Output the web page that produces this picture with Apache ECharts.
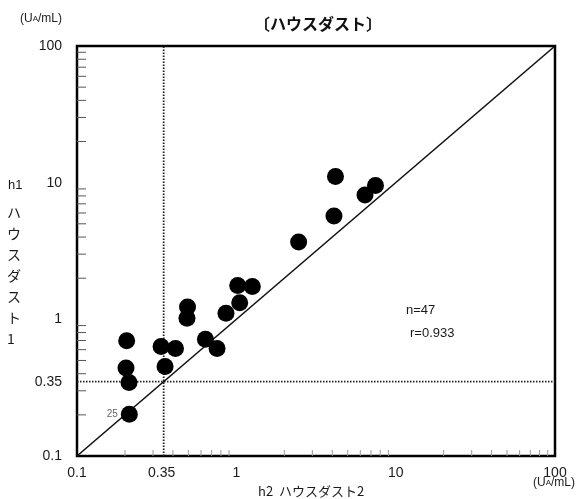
<!DOCTYPE html>
<html><head><meta charset="utf-8">
<script src="https://cdn.jsdelivr.net/npm/echarts@6/dist/echarts.min.js"></script>
<style>html,body{margin:0;padding:0;background:#fff}#c{width:583px;height:499px}</style>
</head><body><div id="c"></div>
<script>
// h2 (x) and h1 (y) values, UA/mL
const h2 = [0.213,0.205,0.203,0.212,0.337,0.357,0.415,0.494,0.49,0.64,0.757,0.861,1.02,1.05,1.26,2.46,4.19,4.10,6.42,7.47];
const h1 = [0.202,0.697,0.44,0.345,0.633,0.452,0.612,1.23,1.02,0.716,0.612,1.11,1.77,1.32,1.74,3.68,11.1,5.70,8.12,9.53];
const pointNotes = ['25','','','','','','','','','','','','','','','','','','',''];
const cutoff = 0.35;
const axisMin = 0.1, axisMax = 100;
const extraTickLabels = [0.35];
const minorTicks = [0.2,0.3,0.4,0.5,0.6,0.7,0.8,0.9,2,3,4,5,6,7,8,9,20,30,40,50,60,70,80,90];
const statsText = ['n=47','r=0.933'];

const FONT = '"Liberation Sans", Arial, sans-serif';
const JP = '"Noto Sans CJK JP", sans-serif';
const chart = echarts.init(document.getElementById('c'), null, {renderer:'canvas'});
const fmt = v => String(+(+v).toPrecision(3));

const pts = h2.map((x,i)=>({value:[x,h1[i]], label:{show:!!pointNotes[i], formatter:pointNotes[i]}}));

chart.setOption({
  animation:false,
  backgroundColor:'#fff',
  grid:{left:77, top:46, right:28, bottom:43, show:true, borderColor:'#000', borderWidth:2.5, backgroundColor:'transparent'},
  title:{text:'〔ハウスダスト〕', left:313, top:11, textAlign:'center',
    textStyle:{fontFamily:JP, fontSize:16, fontWeight:'bold', color:'#111'}},
  xAxis:{type:'log', logBase:10, min:axisMin, max:axisMax, splitLine:{show:false},
    axisLine:{show:false}, axisTick:{show:false},
    axisLabel:{formatter:fmt, margin:10, fontSize:14, color:'#1a1a1a', fontFamily:FONT}},
  yAxis:{type:'log', logBase:10, min:axisMin, max:axisMax, splitLine:{show:false},
    axisLine:{show:false}, axisTick:{show:false},
    axisLabel:{formatter:fmt, margin:15, fontSize:14, color:'#1a1a1a', fontFamily:FONT}},
  graphic:[
    {type:'text', left:20, top:13, style:{rich:{a:{fontSize:12,fill:'#222',fontFamily:FONT}, s:{fontSize:8,fill:'#222',fontFamily:FONT}}, text:'{a|(U}{s|A}{a|/mL)}'}},
    {type:'text', left:533, top:477, style:{rich:{a:{fontSize:12,fill:'#222',fontFamily:FONT}, s:{fontSize:8,fill:'#222',fontFamily:FONT}}, text:'{a|(U}{s|A}{a|/mL)}'}},
    {type:'text', left:258, top:485, style:{text:'h2  ハウスダスト2', fontSize:13, fill:'#1a1a1a', fontFamily:JP}},
    {type:'text', left:8, top:179, style:{text:'h1', fontSize:13, fill:'#1a1a1a', fontFamily:FONT}},
    {type:'text', left:7, top:202, style:{text:'ハ\nウ\nス\nダ\nス\nト\n1', fontSize:14, lineHeight:21, align:'center', width:16, fill:'#1a1a1a', fontFamily:JP}},
    {type:'text', left:406, top:304, style:{text:statsText[0], fontSize:13, fill:'#1a1a1a', fontFamily:FONT}},
    {type:'text', left:410, top:327, style:{text:statsText[1], fontSize:13, fill:'#1a1a1a', fontFamily:FONT}}
  ],
  series:[
    {type:'line', data:[[axisMin,axisMin],[axisMax,axisMax]], symbol:'none', lineStyle:{color:'#111', width:1.6}, z:3, silent:true},
    {type:'line', data:[[cutoff,axisMin],[cutoff,axisMax]], symbol:'none', lineStyle:{color:'#222', width:1.8, type:[1.5,1.5]}, z:2, silent:true},
    {type:'line', data:[[axisMin,cutoff],[axisMax,cutoff]], symbol:'none', lineStyle:{color:'#222', width:1.8, type:[1.5,1.5]}, z:2, silent:true},
    {type:'custom', coordinateSystem:'cartesian2d', data:minorTicks.map(v=>[v,axisMin]), silent:true, z:1,
      renderItem:(p,api)=>{const c=api.coord([api.value(0),api.value(1)]);
        return {type:'line', shape:{x1:c[0],y1:c[1],x2:c[0],y2:c[1]-6}, style:{stroke:'#999',lineWidth:1}};}},
    {type:'custom', coordinateSystem:'cartesian2d', data:minorTicks.map(v=>[axisMin,v]), silent:true, z:1,
      renderItem:(p,api)=>{const c=api.coord([api.value(0),api.value(1)]);
        return {type:'line', shape:{x1:c[0],y1:c[1],x2:c[0]+9,y2:c[1]}, style:{stroke:'#555',lineWidth:1}};}},
    {type:'custom', coordinateSystem:'cartesian2d', data:extraTickLabels.map(v=>[v,axisMin]), silent:true, clip:false,
      renderItem:(p,api)=>{const c=api.coord([api.value(0),api.value(1)]);
        return {type:'text', x:c[0]-2, y:c[1]+10, style:{text:fmt(api.value(0)), fontSize:14, fill:'#1a1a1a', fontFamily:FONT, align:'center', verticalAlign:'top'}};}},
    {type:'custom', coordinateSystem:'cartesian2d', data:extraTickLabels.map(v=>[axisMin,v]), silent:true, clip:false,
      renderItem:(p,api)=>{const c=api.coord([api.value(0),api.value(1)]);
        return {type:'text', x:c[0]-15, y:c[1], style:{text:fmt(api.value(1)), fontSize:14, fill:'#1a1a1a', fontFamily:FONT, align:'right', verticalAlign:'middle'}};}},
    {type:'scatter', data:pts, symbol:'circle', symbolSize:17, itemStyle:{color:'#000', opacity:1}, z:5,
      label:{position:'left', distance:3, fontSize:10, color:'#666', fontFamily:FONT}}
  ]
});
</script></body></html>
